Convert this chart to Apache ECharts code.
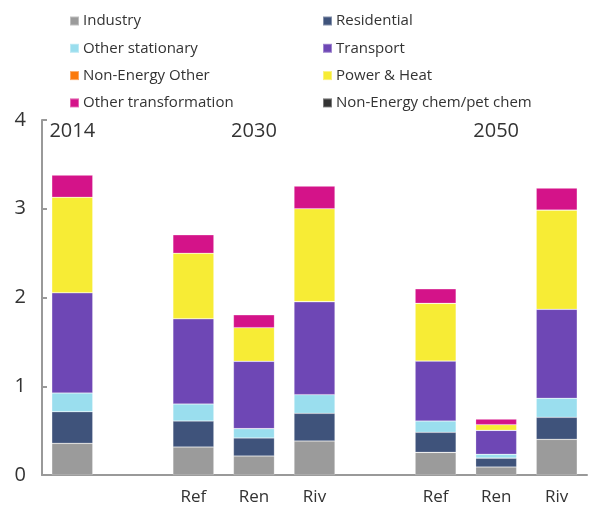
<!DOCTYPE html>
<html><head><meta charset="utf-8">
<script src="https://cdn.jsdelivr.net/npm/echarts@6/dist/echarts.min.js"></script>
<style>html,body{margin:0;padding:0;background:#fff}#c{width:590px;height:507px}</style>
</head><body><div id="c"></div>
<script>
var categories = ['', '', 'Ref', 'Ren', 'Riv', '', 'Ref', 'Ren', 'Riv'];
var yearLabels = ['2014', '', '', '2030', '', '', '', '2050', ''];
var industry      = [0.357, null, 0.315, 0.214, 0.383, null, 0.255, 0.090, 0.402];
var residential   = [0.356, null, 0.293, 0.203, 0.312, null, 0.226, 0.100, 0.248];
var otherStat     = [0.211, null, 0.192, 0.105, 0.210, null, 0.127, 0.043, 0.214];
var transport     = [1.130, null, 0.961, 0.759, 1.048, null, 0.676, 0.270, 1.003];
var nonEnergyOther= [0, null, 0, 0, 0, null, 0, 0, 0];
var powerHeat     = [1.075, null, 0.737, 0.379, 1.047, null, 0.650, 0.064, 1.118];
var otherTransf   = [0.251, null, 0.210, 0.146, 0.256, null, 0.165, 0.064, 0.249];
var chem          = [0, null, 0, 0, 0, null, 0, 0, 0];
var yTicks = [0, 1, 2, 3, 4];

var seriesDefs = [
  ['Industry', industry, '#9b9b9b'],
  ['Residential', residential, '#3f537b'],
  ['Other stationary', otherStat, '#9adeee'],
  ['Transport', transport, '#6e47b5'],
  ['Non-Energy Other', nonEnergyOther, '#fb7a0b'],
  ['Power & Heat', powerHeat, '#f7ec35'],
  ['Other transformation', otherTransf, '#d41389'],
  ['Non-Energy chem/pet chem', chem, '#333333']
];
var font = '"Open Sans", sans-serif';
var chart = echarts.init(document.getElementById('c'), null, {renderer: 'canvas'});
var legendBase = {
  orient: 'vertical', top: 13, padding: 0, itemWidth: 9, itemHeight: 9, itemGap: 11.3,
  icon: 'rect', selectedMode: false,
  textStyle: {fontFamily: font, fontSize: 15, color: '#333', lineHeight: 16, padding: [0,0,0,-1]}
};
chart.setOption({
  animation: false,
  textStyle: {fontFamily: font},
  legend: [
    Object.assign({}, legendBase, {left: 69, data: ['Industry', 'Other stationary', 'Non-Energy Other', 'Other transformation']}),
    Object.assign({}, legendBase, {left: 322, data: ['Residential', 'Transport', 'Power & Heat', 'Non-Energy chem/pet chem']})
  ],
  grid: {left: 42, right: 3, top: 120, bottom: 32, containLabel: false},
  xAxis: [{
    type: 'category', data: categories, position: 'bottom',
    axisLine: {lineStyle: {color: '#999', width: 2}},
    axisTick: {show: false},
    axisLabel: {fontSize: 17, color: '#333', margin: 14, interval: 0, fontFamily: font}
  }, {
    type: 'category', data: yearLabels, position: 'top',
    axisLine: {show: false}, axisTick: {show: false},
    axisLabel: {inside: true, fontSize: 20, color: '#333', margin: 1, interval: 0, fontFamily: font}
  }],
  yAxis: {
    type: 'value', min: 0, max: 4, interval: 1,
    axisLine: {show: true, lineStyle: {color: '#999', width: 2}},
    axisTick: {show: true, inside: true, length: 5, lineStyle: {color: '#999', width: 2}},
    splitLine: {show: false},
    axisLabel: {fontSize: 20, color: '#333', margin: 16, fontFamily: font,
      formatter: function (v) { return yTicks.indexOf(v) >= 0 ? String(v) : ''; }}
  },
  series: seriesDefs.map(function (d) {
    return {
      name: d[0], type: 'bar', stack: 'total', data: d[1], barWidth: 41,
      itemStyle: {color: d[2], borderColor: 'rgba(255,255,255,0.35)', borderWidth: 0.6},
      xAxisIndex: 0
    };
  })
});
</script></body></html>
